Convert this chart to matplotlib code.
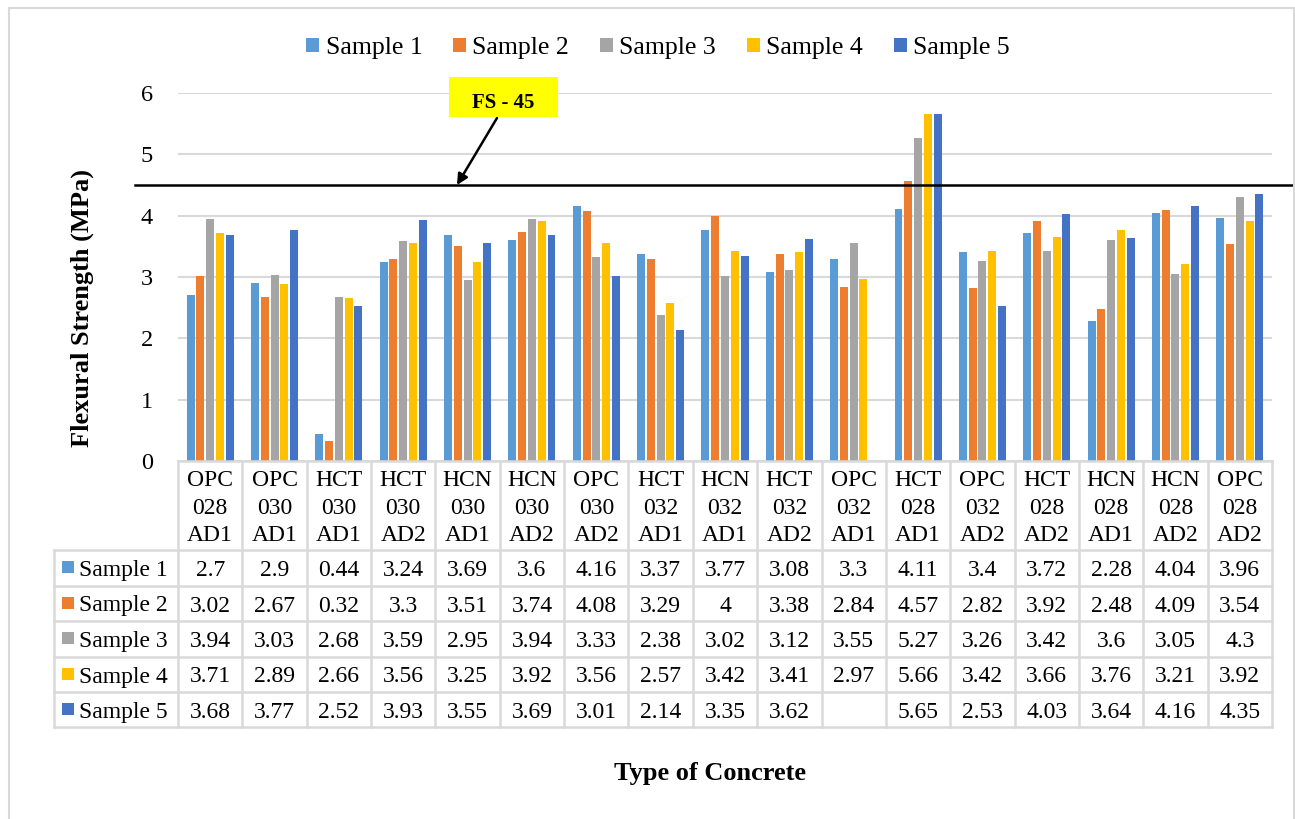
import matplotlib
matplotlib.use("Agg")
import matplotlib.pyplot as plt
import numpy as np
from matplotlib.patches import Rectangle
from matplotlib.lines import Line2D
from matplotlib.transforms import blended_transform_factory

plt.rcParams['font.family'] = ['Liberation Serif', 'DejaVu Serif']

categories = ["OPC\n028\nAD1", "OPC\n030\nAD1", "HCT\n030\nAD1", "HCT\n030\nAD2",
              "HCN\n030\nAD1", "HCN\n030\nAD2", "OPC\n030\nAD2", "HCT\n032\nAD1",
              "HCN\n032\nAD1", "HCT\n032\nAD2", "OPC\n032\nAD1", "HCT\n028\nAD1",
              "OPC\n032\nAD2", "HCT\n028\nAD2", "HCN\n028\nAD1", "HCN\n028\nAD2",
              "OPC\n028\nAD2"]
sample1 = [2.7, 2.9, 0.44, 3.24, 3.69, 3.6, 4.16, 3.37, 3.77, 3.08, 3.3, 4.11, 3.4, 3.72, 2.28, 4.04, 3.96]
sample2 = [3.02, 2.67, 0.32, 3.3, 3.51, 3.74, 4.08, 3.29, 4, 3.38, 2.84, 4.57, 2.82, 3.92, 2.48, 4.09, 3.54]
sample3 = [3.94, 3.03, 2.68, 3.59, 2.95, 3.94, 3.33, 2.38, 3.02, 3.12, 3.55, 5.27, 3.26, 3.42, 3.6, 3.05, 4.3]
sample4 = [3.71, 2.89, 2.66, 3.56, 3.25, 3.92, 3.56, 2.57, 3.42, 3.41, 2.97, 5.66, 3.42, 3.66, 3.76, 3.21, 3.92]
sample5 = [3.68, 3.77, 2.52, 3.93, 3.55, 3.69, 3.01, 2.14, 3.35, 3.62, None, 5.65, 2.53, 4.03, 3.64, 4.16, 4.35]
series_names = ["Sample 1", "Sample 2", "Sample 3", "Sample 4", "Sample 5"]
series = [sample1, sample2, sample3, sample4, sample5]
colors = ["#5B9BD5", "#ED7D31", "#A5A5A5", "#FFC000", "#4472C4"]
threshold = 4.5
threshold_label = "FS - 45"
yticks = [0, 1, 2, 3, 4, 5, 6]

W, H = 1295, 819
fig = plt.figure(figsize=(W / 100, H / 100), dpi=100)

def fx(px):
    return px / W

def fy(py):
    return 1 - py / H

ax_left, ax_right, ax_top, ax_bottom = 178, 1272, 93, 461
ax = fig.add_axes([fx(ax_left), fy(ax_bottom), fx(ax_right - ax_left), (ax_bottom - ax_top) / H])

n = len(categories)
x = np.arange(n)
step = 0.152
bw = 0.124
for k, (vals, c, name) in enumerate(zip(series, colors, series_names)):
    v = np.array([np.nan if a is None else a for a in vals], dtype=float)
    ax.bar(x + (k - 2) * step, v, width=bw, color=c, label=name, zorder=3)

ax.set_xlim(-0.5, n - 0.5)
ax.set_ylim(0, 6)
ax.set_yticks(yticks)
ax.set_yticklabels([str(t) for t in yticks], fontsize=17.5)
ax.tick_params(axis='y', length=0, pad=18)
ax.set_xticks([])
ax.grid(axis='y', color='#D9D9D9', lw=1.5, zorder=0)
for s in ax.spines.values():
    s.set_visible(False)

# threshold line
ax.axhline(threshold, xmin=(135 - ax_left) / (ax_right - ax_left), xmax=(W - ax_left) / (ax_right - ax_left),
           color='black', lw=1.8, clip_on=False, zorder=4)

# annotation box + arrow
fig.patches.append(Rectangle((fx(449), fy(117)), fx(109), 40 / H, transform=fig.transFigure,
                             facecolor='#FFFF00', edgecolor='none', zorder=5))
fig.text(fx(503), fy(108), threshold_label, ha='center', va='baseline', fontsize=15,
         fontweight='bold', zorder=6)
ppu_x = (ax_right - ax_left) / n
ppu_y = (ax_bottom - ax_top) / 6
ax.annotate('', xy=(-0.5 + (457 - ax_left) / ppu_x, threshold),
            xytext=(-0.5 + (497 - ax_left) / ppu_x, (ax_bottom - 118) / ppu_y),
            arrowprops=dict(arrowstyle='-|>', color='black', lw=1.8, mutation_scale=16,
                            shrinkA=0, shrinkB=0),
            annotation_clip=False, zorder=6)

# data table
tr = blended_transform_factory(ax.transData, fig.transFigure)
gc = '#D9D9D9'
row_bounds = [550, 586, 621, 657, 692, 727]
fig.add_artist(Line2D([-0.5, n - 0.5], [fy(461), fy(461)], transform=tr, color=gc, lw=1.8))
for rb in row_bounds:
    fig.add_artist(Line2D([fx(54), fx(ax_right)], [fy(rb), fy(rb)], transform=fig.transFigure, color=gc, lw=1.8))
for b in np.arange(n + 1) - 0.5:
    fig.add_artist(Line2D([b, b], [fy(461), fy(727)], transform=tr, color=gc, lw=1.8))
fig.add_artist(Line2D([fx(54), fx(54)], [fy(550), fy(727)], transform=fig.transFigure, color=gc, lw=1.8))

header_baselines = [486, 513.5, 541]
for i, cat in enumerate(categories):
    for j, part in enumerate(cat.split("\n")):
        fig.text(i, fy(header_baselines[j]), part, transform=tr, ha='center', va='baseline', fontsize=17)

row_baselines = [576, 611.5, 647, 682.5, 718]
for r, (vals, c, name) in enumerate(zip(series, colors, series_names)):
    yb = row_baselines[r]
    fig.patches.append(Rectangle((fx(62), fy(yb - 3)), fx(12), 12 / H, transform=fig.transFigure,
                                 facecolor=c, edgecolor='none'))
    fig.text(fx(79), fy(yb), name, ha='left', va='baseline', fontsize=17)
    for i, v in enumerate(vals):
        if v is None:
            continue
        fig.text(i, fy(yb), f"{v:g}", transform=tr, ha='center', va='baseline', fontsize=17)

# axis labels
fig.text(fx(82), fy(308), "Flexural Strength (MPa)", rotation=90, ha='center', va='center',
         fontsize=19, fontweight='bold')
fig.text(fx(710), fy(780), "Type of Concrete", ha='center', va='baseline', fontsize=19, fontweight='bold')

# legend
handles = [Rectangle((0, 0), 1, 1, facecolor=c, edgecolor='none') for c in colors]
fig.legend(handles, series_names, loc='center', bbox_to_anchor=(fx(658), fy(48)), ncol=5,
           frameon=False, fontsize=18.5, handlelength=0.5, handleheight=0.5,
           handletextpad=0.25, columnspacing=1.2)

# outer border
for xs, ys in [([9, 9], [8, H + 5]), ([9, 1294], [8, 8]), ([1294, 1294], [8, H + 5])]:
    fig.add_artist(Line2D([fx(a) for a in xs], [fy(b) for b in ys], transform=fig.transFigure,
                          color=gc, lw=1.5))

fig.savefig("out.png", dpi=100)
